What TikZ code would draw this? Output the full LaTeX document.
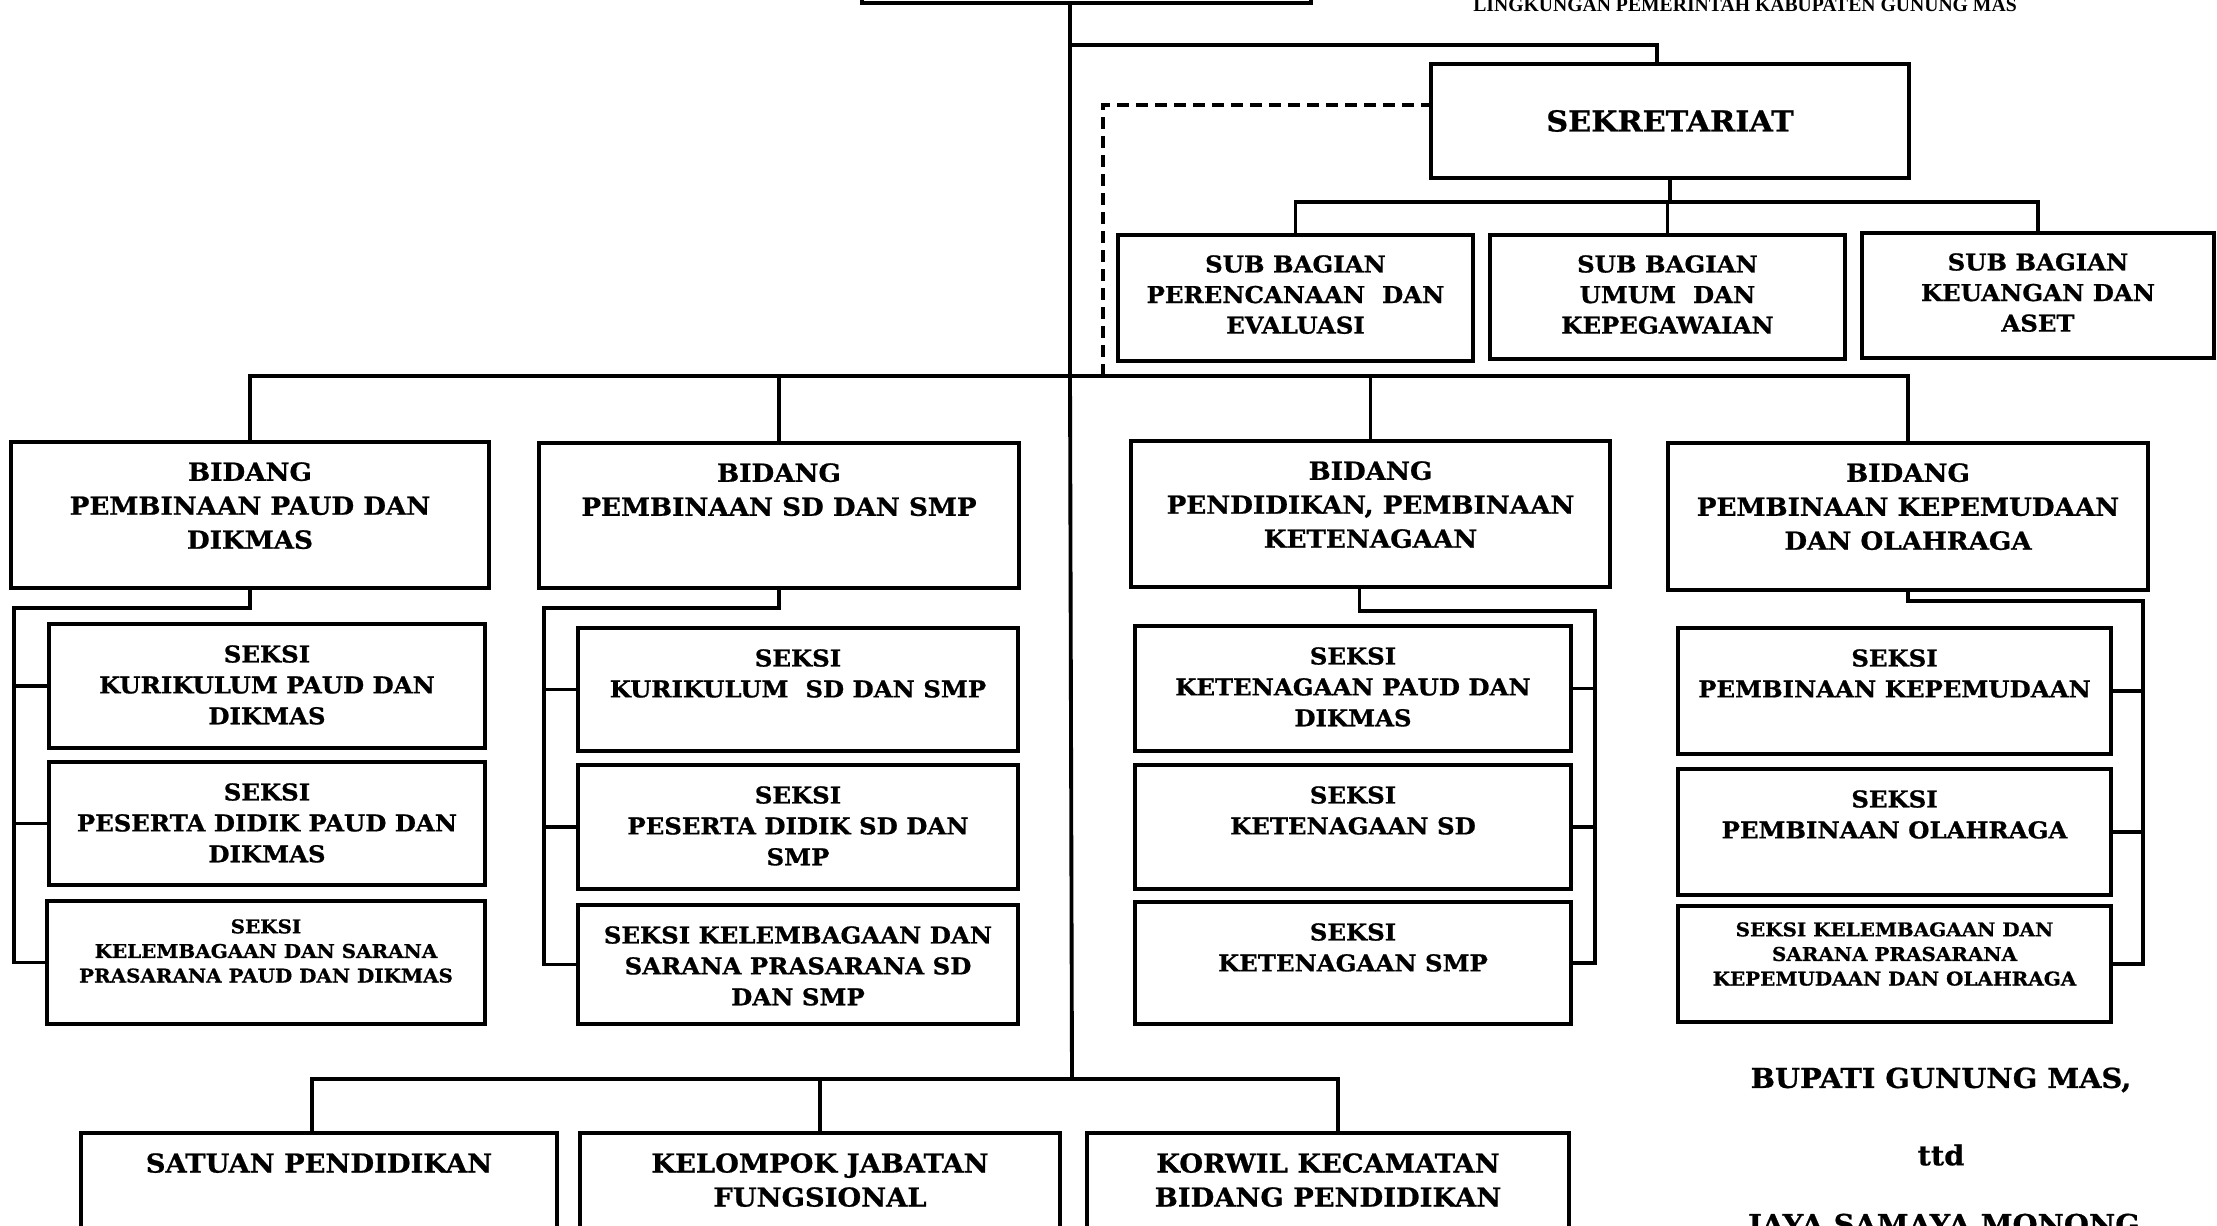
\documentclass[tikz,border=0pt]{standalone}
\usepackage{fontspec}
\setmainfont{DejaVu Serif}[FakeStretch=1.05, BoldFeatures={FakeBold=0.8}]
\newfontfamily\topfont{Liberation Serif}
\usetikzlibrary{fit}
\begin{document}
\begin{tikzpicture}[x=0.1mm,y=-0.1mm,
  box/.style={draw, line width=1.4pt, inner sep=0pt},
  conn/.style={line width=1.1pt, line cap=rect},
  lbl/.style={align=center, inner sep=0pt, anchor=north},
  fbid/.style={font=\bfseries\fontsize{7.1}{9.67}\selectfont},
  fsek/.style={font=\bfseries\fontsize{6.6}{8.8}\selectfont},
  fsub/.style={font=\bfseries\fontsize{6.6}{8.7}\selectfont},
  fsml/.style={font=\bfseries\fontsize{5.4}{7}\selectfont},
  fbot/.style={font=\bfseries\fontsize{7.4}{9.67}\selectfont},
  dash line/.style={line width=1pt, dash pattern=on 1.2mm off 0.7mm}]
\useasboundingbox (0,0) rectangle (2217,1226);
\fill[white] (0,0) rectangle (2217,1226);
\clip (0,0) rectangle (2217,1226);

% top box (cut off)
\node[box, fit={(862,-100) (1311,3)}] (kadis) {};
\node[font=\topfont\bfseries\fontsize{5.6}{6}\selectfont, inner sep=0pt, anchor=south] (hdr) at (1745,12) {LINGKUNGAN PEMERINTAH KABUPATEN GUNUNG MAS};

% sekretariat
\node[box, fit={(1431,64) (1909,178)}] (sek) {};
\node[font=\bfseries\fontsize{8.2}{10}\selectfont, inner sep=0pt] (sekt) at (sek.center) {SEKRETARIAT};

% sub bagian
\node[box, fit={(1118,235) (1473,361)}] (sb1) {};
\node[box, fit={(1490,235) (1845,359)}] (sb2) {};
\node[box, fit={(1862,233) (2214,358)}] (sb3) {};
\node[lbl, fsub] (sb1t) at ([yshift=-2.2mm]sb1.north) {SUB BAGIAN\\PERENCANAAN\ \ DAN\\EVALUASI};
\node[lbl, fsub] (sb2t) at ([yshift=-2.2mm]sb2.north) {SUB BAGIAN\\UMUM\ \ DAN\\KEPEGAWAIAN};
\node[lbl, fsub] (sb3t) at ([yshift=-2.2mm]sb3.north) {SUB BAGIAN\\KEUANGAN DAN\\ASET};

% bidang
\node[box, fit={(11,442) (489,588)}] (b1) {};
\node[box, fit={(539,443) (1019,588)}] (b2) {};
\node[box, fit={(1131,441) (1610,587)}] (b3) {};
\node[box, fit={(1668,443) (2148,590)}] (b4) {};
\node[lbl, fbid] (b1t) at ([yshift=-2.2mm]b1.north) {BIDANG\\PEMBINAAN PAUD DAN\\DIKMAS};
\node[lbl, fbid] (b2t) at ([yshift=-2.2mm]b2.north) {BIDANG\\PEMBINAAN SD DAN SMP};
\node[lbl, fbid] (b3t) at ([yshift=-2.2mm]b3.north) {BIDANG\\PENDIDIKAN, PEMBINAAN\\KETENAGAAN};
\node[lbl, fbid] (b4t) at ([yshift=-2.2mm]b4.north) {BIDANG\\PEMBINAAN KEPEMUDAAN\\DAN OLAHRAGA};

% seksi column 1
\node[box, fit={(49,624) (485,748)}] (s1a) {};
\node[box, fit={(49,762) (485,885)}] (s1b) {};
\node[box, fit={(47,901) (485,1024)}] (s1c) {};
\node[lbl, fsek] (s1at) at ([yshift=-2.3mm]s1a.north) {SEKSI\\KURIKULUM PAUD DAN\\DIKMAS};
\node[lbl, fsek] (s1bt) at ([yshift=-2.3mm]s1b.north) {SEKSI\\PESERTA DIDIK PAUD DAN\\DIKMAS};
\node[lbl, fsml] (s1ct) at ([yshift=-2.0mm]s1c.north) {SEKSI\\KELEMBAGAAN DAN SARANA\\PRASARANA PAUD DAN DIKMAS};

% seksi column 2
\node[box, fit={(578,628) (1018,751)}] (s2a) {};
\node[box, fit={(578,765) (1018,889)}] (s2b) {};
\node[box, fit={(578,905) (1018,1024)}] (s2c) {};
\node[lbl, fsek] (s2at) at ([yshift=-2.3mm]s2a.north) {SEKSI\\KURIKULUM\ \ SD DAN SMP};
\node[lbl, fsek] (s2bt) at ([yshift=-2.3mm]s2b.north) {SEKSI\\PESERTA DIDIK SD DAN\\SMP};
\node[lbl, fsek] (s2ct) at ([yshift=-2.3mm]s2c.north) {SEKSI KELEMBAGAAN DAN\\SARANA PRASARANA SD\\DAN SMP};

% seksi column 3
\node[box, fit={(1135,626) (1571,751)}] (s3a) {};
\node[box, fit={(1135,765) (1571,889)}] (s3b) {};
\node[box, fit={(1135,902) (1571,1024)}] (s3c) {};
\node[lbl, fsek] (s3at) at ([yshift=-2.3mm]s3a.north) {SEKSI\\KETENAGAAN PAUD DAN\\DIKMAS};
\node[lbl, fsek] (s3bt) at ([yshift=-2.3mm]s3b.north) {SEKSI\\KETENAGAAN SD};
\node[lbl, fsek] (s3ct) at ([yshift=-2.3mm]s3c.north) {SEKSI\\KETENAGAAN SMP};

% seksi column 4
\node[box, fit={(1678,628) (2111,754)}] (s4a) {};
\node[box, fit={(1678,769) (2111,895)}] (s4b) {};
\node[box, fit={(1678,906) (2111,1022)}] (s4c) {};
\node[lbl, fsek] (s4at) at ([yshift=-2.3mm]s4a.north) {SEKSI\\PEMBINAAN KEPEMUDAAN};
\node[lbl, fsek] (s4bt) at ([yshift=-2.3mm]s4b.north) {SEKSI\\PEMBINAAN OLAHRAGA};
\node[lbl, fsml] (s4ct) at ([yshift=-1.8mm]s4c.north) {SEKSI KELEMBAGAAN DAN\\SARANA PRASARANA\\KEPEMUDAAN DAN OLAHRAGA};

% bottom boxes
\node[box, fit={(81,1133) (557,1300)}] (bb1) {};
\node[box, fit={(580,1133) (1060,1300)}] (bb2) {};
\node[box, fit={(1087,1133) (1569,1300)}] (bb3) {};
\node[lbl, fbot] (bb1t) at ([yshift=-2.2mm]bb1.north) {SATUAN PENDIDIKAN};
\node[lbl, fbot] (bb2t) at ([yshift=-2.2mm]bb2.north) {KELOMPOK JABATAN\\FUNGSIONAL};
\node[lbl, fbot] (bb3t) at ([yshift=-2.2mm]bb3.north) {KORWIL KECAMATAN\\BIDANG PENDIDIKAN};

% signature
\node[font=\bfseries\fontsize{7.8}{9}\selectfont, inner sep=0pt] (bup) at (1941,1080) {BUPATI GUNUNG MAS,};
\node[font=\bfseries\fontsize{7.8}{9}\selectfont, inner sep=0pt] (ttd) at (1941,1155) {ttd};
\node[font=\bfseries\fontsize{7.8}{9}\selectfont, inner sep=0pt, anchor=north] (nama) at (1944,1213) {JAYA SAMAYA MONONG};

% coordinates
\coordinate (t0) at (1070,5);
\coordinate (t1) at (1070,45);
\coordinate (bbus) at (1070,376);
\coordinate (bbus2) at (1072,1079);
\coordinate (sbbus) at (1670,202);
\coordinate (d1) at (1103,376);
\coordinate (c1) at (14,608);
\coordinate (c2) at (544,608);
\coordinate (c3) at (1595,611);
\coordinate (c4) at (2143,601);

% trunk
\draw[conn] (t0) -- (bbus) -- (bbus2);
\draw[conn] (t1) -| ([xshift=-1.3mm]sek.north);
\draw[dash line] (d1) |- ([yshift=1.6mm]sek.west);

% sub bagian
\draw[conn] (sek.south) -- (sek.south |- sbbus);
\draw[conn] (sb1.north) -- (sb1.north |- sbbus) -- (sb3.north |- sbbus) -- (sb3.north);
\draw[conn] (sb2.north |- sbbus) -- (sb2.north);

% bidang bus
\draw[conn] (b1.north) -- (b1.north |- bbus) -- (b4.north |- bbus) -- (b4.north);
\draw[conn] (b2.north) -- (b2.north |- bbus);
\draw[conn] (b3.north) -- (b3.north |- bbus);

% column connectors
\draw[conn] (b1.south) -- (b1.south |- c1) -- (c1) |- (s1c.west);
\draw[conn] (c1 |- s1a.west) -- (s1a.west);
\draw[conn] (c1 |- s1b.west) -- (s1b.west);

\draw[conn] (b2.south) -- (b2.south |- c2) -- (c2) |- (s2c.west);
\draw[conn] (c2 |- s2a.west) -- (s2a.west);
\draw[conn] (c2 |- s2b.west) -- (s2b.west);

\draw[conn] ([xshift=-1.1mm]b3.south) -- ([xshift=-1.1mm]b3.south |- c3) -- (c3) |- (s3c.east);
\draw[conn] (c3 |- s3a.east) -- (s3a.east);
\draw[conn] (c3 |- s3b.east) -- (s3b.east);

\draw[conn] (b4.south) -- (b4.south |- c4) -- (c4) |- (s4c.east);
\draw[conn] (c4 |- s4a.east) -- (s4a.east);
\draw[conn] (c4 |- s4b.east) -- (s4b.east);

% bottom bus
\draw[conn] ([xshift=-0.7mm]bb1.north) -- ([xshift=-0.7mm]bb1.north |- bbus2) -- ([xshift=1mm]bb3.north |- bbus2) -- ([xshift=1mm]bb3.north);
\draw[conn] (bb2.north) -- (bb2.north |- bbus2);
\end{tikzpicture}
\end{document}
